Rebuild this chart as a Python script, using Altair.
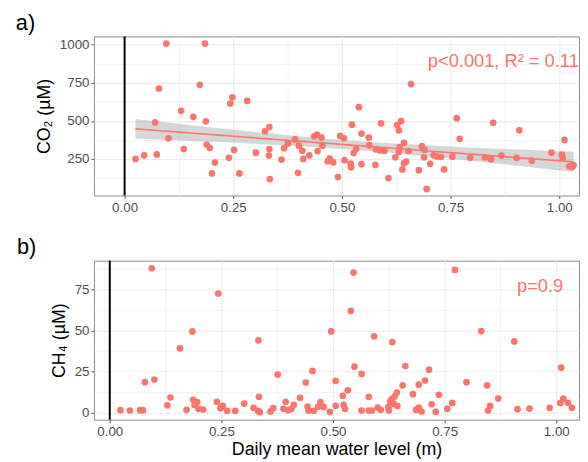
import altair as alt
import numpy as np
import pandas as pd

# ---------------- data ----------------
co2_x = [0.025, 0.045, 0.070, 0.074, 0.079, 0.096, 0.101, 0.130, 0.136, 0.158,
         0.173, 0.185, 0.187, 0.189, 0.196, 0.201, 0.208, 0.240, 0.243, 0.248,
         0.252, 0.264, 0.282, 0.302, 0.323, 0.333, 0.333, 0.332, 0.334, 0.361,
         0.367, 0.376, 0.392, 0.401, 0.399, 0.409, 0.411, 0.425, 0.436, 0.443,
         0.453, 0.444, 0.455, 0.467, 0.472, 0.480, 0.491, 0.496, 0.505, 0.506,
         0.520, 0.521, 0.523, 0.527, 0.533, 0.539, 0.545, 0.545, 0.562, 0.563,
         0.577, 0.578, 0.588, 0.590, 0.598, 0.607, 0.623, 0.627, 0.631, 0.631,
         0.636, 0.633, 0.639, 0.643, 0.643, 0.648, 0.653, 0.659, 0.677, 0.684,
         0.690, 0.689, 0.695, 0.703, 0.711, 0.718, 0.728, 0.735, 0.754, 0.764,
         0.771, 0.795, 0.829, 0.842, 0.843, 0.848, 0.867, 0.902, 0.908, 0.937,
         0.982, 1.006, 1.008, 1.012, 1.023, 1.030, 1.033]
co2_y = [250, 274, 490, 280, 713, 1008, 386, 566, 315, 527,
         737, 1008, 497, 345, 323, 155, 226, 258, 614, 655,
         310, 155, 631, 291, 432, 460, 315, 272, 118, 246,
         321, 352, 378, 337, 159, 304, 250, 274, 399, 410,
         391, 302, 337, 235, 252, 228, 131, 401, 386, 242,
         220, 196, 475, 289, 317, 590, 417, 216, 391, 339,
         211, 313, 306, 484, 304, 125, 261, 473, 438, 296,
         499, 328, 181, 356, 222, 233, 302, 742, 176, 334,
         311, 261, 53, 218, 274, 267, 263, 181, 265, 518,
         382, 258, 261, 256, 248, 488, 272, 258, 438, 239,
         291, 278, 256, 375, 202, 198, 209]

ch4_x = [0.024, 0.045, 0.068, 0.074, 0.079, 0.094, 0.100, 0.129, 0.136, 0.157,
         0.172, 0.185, 0.187, 0.190, 0.196, 0.199, 0.209, 0.240, 0.243, 0.248,
         0.253, 0.263, 0.281, 0.301, 0.322, 0.333, 0.334, 0.332, 0.336, 0.360,
         0.366, 0.376, 0.389, 0.394, 0.400, 0.407, 0.412, 0.426, 0.439, 0.454,
         0.443, 0.445, 0.457, 0.467, 0.472, 0.479, 0.493, 0.496, 0.506, 0.506,
         0.522, 0.524, 0.527, 0.533, 0.540, 0.546, 0.548, 0.564, 0.564, 0.580,
         0.587, 0.580, 0.592, 0.600, 0.607, 0.624, 0.625, 0.628, 0.632, 0.636,
         0.638, 0.643, 0.644, 0.633, 0.656, 0.662, 0.679, 0.686, 0.692, 0.698,
         0.692, 0.706, 0.715, 0.721, 0.730, 0.737, 0.756, 0.767, 0.773, 0.799,
         0.832, 0.845, 0.847, 0.852, 0.870, 0.906, 0.913, 0.940, 0.985, 1.011,
         1.009, 1.016, 1.026, 1.035]
ch4_y = [1.6, 1.4, 1.6, 1.6, 18.6, 87.7, 20.2, 4.6, 9.3, 39.1,
         1.8, 49.4, 7.9, 4.8, 6.5, 2.4, 2.0, 6.7, 72.4, 2.8,
         4.2, 1.2, 1.2, 5.6, 3.0, 44.0, 9.7, 1.2, 0.4, 0.8,
         2.8, 23.2, 2.4, 6.7, 1.6, 2.4, 4.8, 9.1, 18.4, 25.4,
         3.8, 1.4, 1.2, 3.8, 6.5, 3.6, 0.6, 49.4, 4.3, 19.4,
         10.3, 4.8, 2.4, 13.7, 61.9, 85.1, 28.0, 23.6, 1.4, 1.4,
         1.4, 9.7, 46.4, 3.2, 1.8, 3.4, 1.4, 7.0, 8.3, 5.4,
         9.9, 12.3, 4.2, 42.9, 16.7, 28.4, 11.3, 1.8, 3.2, 0.8,
         17.1, 19.6, 26.2, 5.2, 0.6, 10.9, 2.4, 6.0, 86.7, 18.6,
         49.6, 16.7, 1.4, 4.2, 8.7, 43.3, 2.2, 2.6, 3.0, 27.4,
         6.0, 8.7, 6.1, 3.0]

vline_x = [0.0]
x_ticks = [0.0, 0.125, 0.25, 0.375, 0.5, 0.625, 0.75, 0.875, 1.0]
co2_ticks = [125, 250, 375, 500, 625, 750, 875, 1000]
ch4_ticks = [0, 12.5, 25, 37.5, 50, 62.5, 75, 87.5]

co2_label = ["p<0.001, R² = 0.11"]
co2_label_x = [1.045]
co2_label_y = [893]
ch4_label = ["p=0.9"]
ch4_label_x = [0.912]
ch4_label_y = [76.8]

FONT = "Liberation Sans"
RED = "#F8766D"

# ---------------- linear fit with 95% confidence band ----------------
cx = np.array(co2_x)
cy = np.array(co2_y, dtype=float)
n = len(cx)
slope, intercept = np.polyfit(cx, cy, 1)
resid = cy - (intercept + slope * cx)
s = np.sqrt(np.sum(resid ** 2) / (n - 2))
sxx = np.sum((cx - cx.mean()) ** 2)
grid_x = np.linspace(cx.min(), cx.max(), 80)
fit = intercept + slope * grid_x
se = s * np.sqrt(1.0 / n + (grid_x - cx.mean()) ** 2 / sxx)
t_crit = 1.984
band_df = pd.DataFrame({"x": grid_x, "fit": fit,
                        "lo": fit - t_crit * se, "hi": fit + t_crit * se})

co2_df = pd.DataFrame({"x": co2_x, "y": co2_y})
ch4_df = pd.DataFrame({"x": ch4_x, "y": ch4_y})
vline_df = pd.DataFrame({"x": vline_x})
co2_lab_df = pd.DataFrame({"x": co2_label_x, "y": co2_label_y, "t": co2_label})
ch4_lab_df = pd.DataFrame({"x": ch4_label_x, "y": ch4_label_y, "t": ch4_label})


def cond(test, minor, major):
    return {"condition": {"test": test, "value": minor}, "value": major}


def make_x_axis(title):
    test = "datum.value % 0.25 != 0"
    return alt.Axis(values=x_ticks,
                    labelExpr="datum.value % 0.25 == 0 ? format(datum.value, '.2f') : ''",
                    tickOpacity=cond(test, 0, 1),
                    gridWidth=cond(test, 0.6, 1.1),
                    titlePadding=3,
                    title=title)


def make_y_axis(values, step, title):
    test = "datum.value % " + str(step) + " != 0"
    return alt.Axis(values=values, title=title,
                    labelExpr="datum.value % " + str(step) + " == 0 ? format(datum.value, 'd') : ''",
                    tickOpacity=cond(test, 0, 1),
                    gridWidth=cond(test, 0.6, 1.1),
                    titlePadding=6)


W = 491
H = 161
PT = 46

# ---------------- top panel ----------------
xs_top = alt.Scale(domain=[-0.0705, 1.0455], nice=False, zero=False)
ys_top = alt.Scale(domain=[10, 1055], nice=False, zero=False)
xa_top = make_x_axis(None)
ya_top = make_y_axis(co2_ticks, 250, "CO₂ (µM)")

def xt():
    return alt.X("x:Q", scale=xs_top, axis=xa_top)

def yt(field):
    return alt.Y(field + ":Q", scale=ys_top, axis=ya_top)

band = alt.Chart(band_df).mark_area(color="#999999", opacity=0.4).encode(
    x=xt(), y=yt("lo"), y2="hi:Q")
fitline = alt.Chart(band_df).mark_line(color=RED, strokeWidth=1.6).encode(
    x=xt(), y=yt("fit"))
vrule_top = alt.Chart(vline_df).mark_rule(color="black", strokeWidth=2).encode(x=xt())
pts_top = alt.Chart(co2_df).mark_circle(size=PT, color=RED, opacity=1).encode(
    x=xt(), y=yt("y"))
txt_top = alt.Chart(co2_lab_df).mark_text(
    align="right", baseline="middle", font=FONT, fontSize=18.5, color=RED).encode(
    x=xt(), y=yt("y"), text="t:N")

top = alt.layer(band, vrule_top, fitline, pts_top, txt_top).properties(
    width=W, height=H,
    title=alt.TitleParams("a)", anchor="start", fontSize=22, fontWeight="normal",
                          font=FONT, color="black", dx=-20, offset=1))

# ---------------- bottom panel ----------------
xs_bot = alt.Scale(domain=[-0.0354, 1.0509], nice=False, zero=False)
ys_bot = alt.Scale(domain=[-4.2, 92.3], nice=False, zero=False)
xa_bot = make_x_axis("Daily mean water level (m)")
ya_bot = make_y_axis(ch4_ticks, 25, "CH₄ (µM)")

def xb():
    return alt.X("x:Q", scale=xs_bot, axis=xa_bot)

def yb(field):
    return alt.Y(field + ":Q", scale=ys_bot, axis=ya_bot)

vrule_bot = alt.Chart(vline_df).mark_rule(color="black", strokeWidth=2).encode(x=xb())
pts_bot = alt.Chart(ch4_df).mark_circle(size=PT, color=RED, opacity=1).encode(
    x=xb(), y=yb("y"))
txt_bot = alt.Chart(ch4_lab_df).mark_text(
    align="left", baseline="middle", font=FONT, fontSize=18.5, color=RED).encode(
    x=xb(), y=yb("y"), text="t:N")

bottom = alt.layer(vrule_bot, pts_bot, txt_bot).properties(
    width=W, height=H,
    title=alt.TitleParams("b)", anchor="start", fontSize=22, fontWeight="normal",
                          font=FONT, color="black", dx=-34, offset=1))

chart = alt.vconcat(top, bottom, spacing=21).properties(
    padding={"left": 7, "top": 0, "right": 0, "bottom": 0},
    background="white",
).configure_view(
    stroke="#8C8C8C", strokeWidth=1
).configure_axis(
    domain=False, tickColor="#555555", tickSize=3, tickWidth=1,
    labelPadding=2, labelColor="#4D4D4D", labelFontSize=13.5, labelFont=FONT,
    titleFont=FONT, titleFontSize=18, titleFontWeight="normal", titleColor="black",
    gridColor="#EBEBEB", labelFlush=False
)

chart.save("out.html", embed_options={"renderer": "svg", "actions": False})
